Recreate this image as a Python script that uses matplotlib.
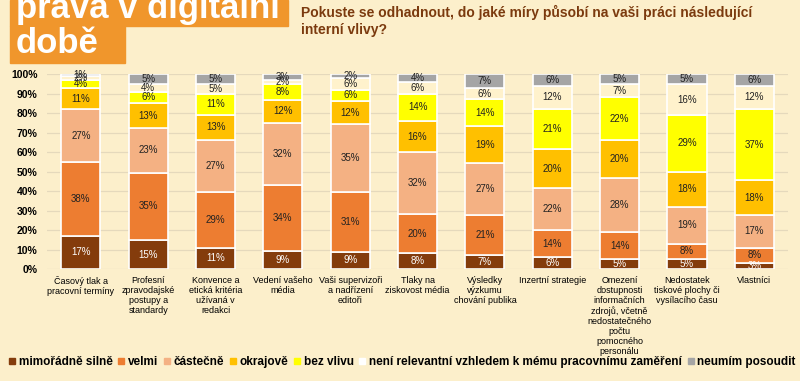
import numpy as np
import matplotlib.pyplot as plt
from matplotlib.patches import Rectangle
from matplotlib.lines import Line2D

plt.rcParams['font.family'] = ['Liberation Sans', 'DejaVu Sans']

categories = [
	"Časový tlak a\npracovní termíny",
	"Profesní\nzpravodajské\npostupy a\nstandardy",
	"Konvence a\netická kritéria\nužívaná v\nredakci",
	"Vedení vašeho\nmédia",
	"Vaši supervizoři\na nadřízení\neditoři",
	"Tlaky na\nziskovost média",
	"Výsledky\nvýzkumu\nchování publika",
	"Inzertní strategie",
	"Omezení\ndostupnosti\ninformačních\nzdrojů, včetně\nnedostatečného\npočtu\npomocného\npersonálu",
	"Nedostatek\ntiskové plochy či\nvysílacího času",
	"Vlastníci",
]

series_names = [
	"mimořádně silně",
	"velmi",
	"částečně",
	"okrajově",
	"bez vlivu",
	"není relevantní vzhledem k mému pracovnímu zaměření",
	"neumím posoudit",
]

mimoradne = [17, 15, 11, 9, 9, 8, 7, 6, 5, 5, 3]
velmi = [38, 35, 29, 34, 31, 20, 21, 14, 14, 8, 8]
castecne = [27, 23, 27, 32, 35, 32, 27, 22, 28, 19, 17]
okrajove = [11, 13, 13, 12, 12, 16, 19, 20, 20, 18, 18]
bez_vlivu = [4, 6, 11, 8, 6, 14, 14, 21, 22, 29, 37]
neni_relevantni = [2, 4, 5, 2, 6, 6, 6, 12, 7, 16, 12]
neumim = [1, 5, 5, 3, 2, 4, 7, 6, 5, 5, 6]

series = [mimoradne, velmi, castecne, okrajove, bez_vlivu, neni_relevantni, neumim]
colors = ['#843C0C', '#ED7D31', '#F4B183', '#FFC000', '#FFFF00', '#FFF2CC', '#A5A5A5']
legend_colors = ['#843C0C', '#ED7D31', '#F4B183', '#FFC000', '#FFFF00', 'white', '#A5A5A5']
text_colors = ['white', '#222222', '#222222', '#222222', '#222222', '#222222', '#222222']

bg = '#FCEFCB'

fig = plt.figure(figsize=(8, 3.81), dpi=100, facecolor=bg)
ax = fig.add_axes([0.059, 0.294, 0.926, 0.511])
ax.set_facecolor(bg)

data = np.array(series, dtype=float)
totals = data.sum(axis=0)
x = np.arange(len(categories))
bottom = np.zeros(len(categories))
for vals, raw, col, tc in zip(data / totals, series, colors, text_colors):
	ax.bar(x, vals, bottom=bottom, width=0.58, color=col, edgecolor='white', linewidth=1.2, zorder=3)
	for xi, b, v, r in zip(x, bottom, vals, raw):
		ax.text(xi, b + v / 2, "{0}%".format(r), ha='center', va='center', fontsize=7, color=tc, zorder=4)
	bottom += vals

ax.set_xlim(-0.5, len(categories) - 0.5)
ax.set_ylim(0, 1)
ticks = np.arange(0, 1.01, 0.1)
ax.set_yticks(ticks)
ax.set_yticklabels(["{0}%".format(int(round(t * 100))) for t in ticks], fontsize=7.5, fontweight='bold')
ax.set_xticks(x)
ax.set_xticklabels(categories, fontsize=6.5, linespacing=1.15, va='top')
ax.tick_params(axis='both', length=0)
ax.tick_params(axis='y', pad=7)
ax.tick_params(axis='x', pad=5)
ax.grid(axis='y', color='#E5D9BC', linewidth=0.9, zorder=0)
for s in ax.spines.values():
	s.set_visible(False)

# title blocks
orange = '#F0962C'
fig.patches.append(Rectangle((10 / 800, 1 - 26 / 381), 278 / 800, 26 / 381, transform=fig.transFigure, color=orange, zorder=0))
fig.patches.append(Rectangle((10 / 800, 1 - 63 / 381), 115 / 800, 37 / 381, transform=fig.transFigure, color=orange, zorder=0))
fig.text(16 / 800, 1 - 18 / 381, "práva v digitální", color='white', fontsize=25, fontweight='bold', va='baseline')
fig.text(16 / 800, 1 - 53 / 381, "době", color='white', fontsize=25, fontweight='bold', va='baseline')

fig.text(301 / 800, 1 - 5 / 381, "Pokuste se odhadnout, do jaké míry působí na vaši práci následující\ninterní vlivy?",
	color='#7B3A0E', fontsize=10, fontweight='bold', va='top', linespacing=1.3, ha='left')

handles = [Line2D([], [], marker='s', linestyle='', markersize=4.5, color=c) for c in legend_colors]
fig.legend(handles, series_names, loc='center', bbox_to_anchor=(0.503, 1 - 362 / 381), ncol=7, frameon=False,
	prop={'weight': 'bold', 'size': 8.5}, handlelength=0.5, handletextpad=0.3, columnspacing=0.5,
	borderpad=0, borderaxespad=0)

fig.savefig("out.png", dpi=100, facecolor=bg)
